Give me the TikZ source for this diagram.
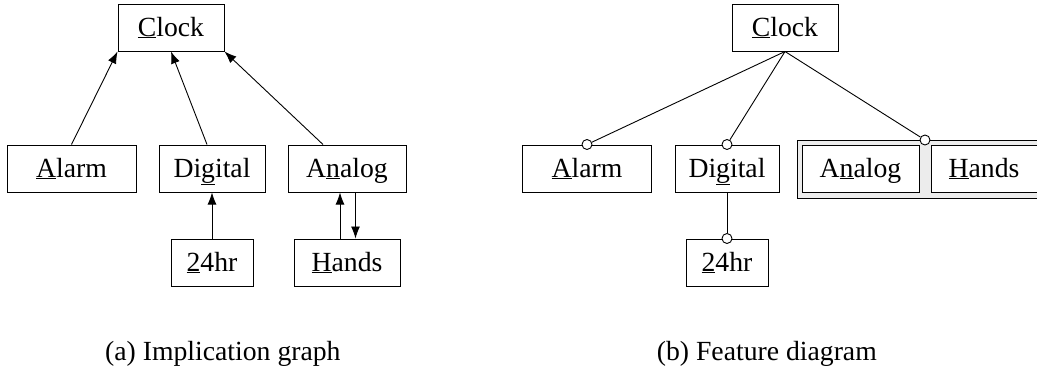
\documentclass[tikz,border=0pt]{standalone}
\usepackage{fontspec}
\setmainfont{Liberation Serif}
\usetikzlibrary{arrows.meta}
\tikzset{
  feat/.style={draw, line width=1pt, inner sep=0pt, minimum height=47pt,
    text height=19pt, text depth=2pt, fill=white},
  impl/.style={line width=0.9pt, -{Latex[length=12pt,width=9pt]}},
  edge/.style={line width=0.9pt},
  knob/.style={circle, draw, line width=0.9pt, fill=white, inner sep=0pt, minimum size=10pt},
  caption/.style={inner sep=0pt}
}
\begin{document}
\begin{tikzpicture}[x=1pt,y=-1pt,font=\fontsize{27.7}{33}\selectfont]
\useasboundingbox (0,0) rectangle (1037,372);

% (a) implication graph
\node[feat, minimum width=106pt] (c1) at (171,27.5) {\underline{C}lock};
\node[feat, minimum width=129pt] (a1) at (71.5,168.5) {\underline{A}larm};
\node[feat, minimum width=106pt] (d1) at (212,168.5) {Di\underline{g}ital};
\node[feat, minimum width=118pt] (n1) at (347,168.5) {A\underline{n}alog};
\node[feat, minimum width=82pt]  (t1) at (212,262.5) {\underline{2}4hr};
\node[feat, minimum width=106pt] (h1) at (347,262.5) {\underline{H}ands};

\draw[impl] (a1.north) -- (c1.south west);
\draw[impl] ([xshift=-5pt]d1.north) -- (c1.south);
\draw[impl] ([xshift=-24pt]n1.north) -- (c1.south east);
\draw[impl] (t1.north) -- (d1.south);
\draw[impl] ([xshift=-7pt]h1.north) -- ([xshift=-7pt]n1.south);
\draw[impl] ([xshift=8.5pt]n1.south) -- ([xshift=8.5pt]h1.north);

\node[caption, anchor=base west] (capa) at (105,360) {(a) Implication graph};

% (b) feature diagram
\node[draw, line width=1pt, fill=gray!15, minimum width=248pt, minimum height=58pt,
  inner sep=0pt] (grp) at (921,169) {};
\node[feat, minimum width=106pt] (c2) at (785,27.5) {\underline{C}lock};
\node[feat, minimum width=129pt] (a2) at (587,168.5) {\underline{A}larm};
\node[feat, minimum width=104pt] (d2) at (727,168.5) {Di\underline{g}ital};
\node[feat, minimum width=82pt]  (t2) at (727,262.5) {\underline{2}4hr};
\node[feat, minimum width=117pt] (n2) at (860.5,168.5) {A\underline{n}alog};
\node[feat, minimum width=106pt] (h2) at (984,168.5) {\underline{H}ands};

\node[knob] (ka) at (a2.north) {};
\node[knob] (kd) at (d2.north) {};
\node[knob] (kt) at (t2.north) {};
\node[knob] (kg) at (925,140) {};

\draw[edge] (c2.south) -- (ka);
\draw[edge] (c2.south) -- (kd);
\draw[edge] (c2.south) -- (kg);
\draw[edge] (d2.south) -- (kt);

\node[caption, anchor=base east] (capb) at (877,360) {(b) Feature diagram};
\end{tikzpicture}
\end{document}
